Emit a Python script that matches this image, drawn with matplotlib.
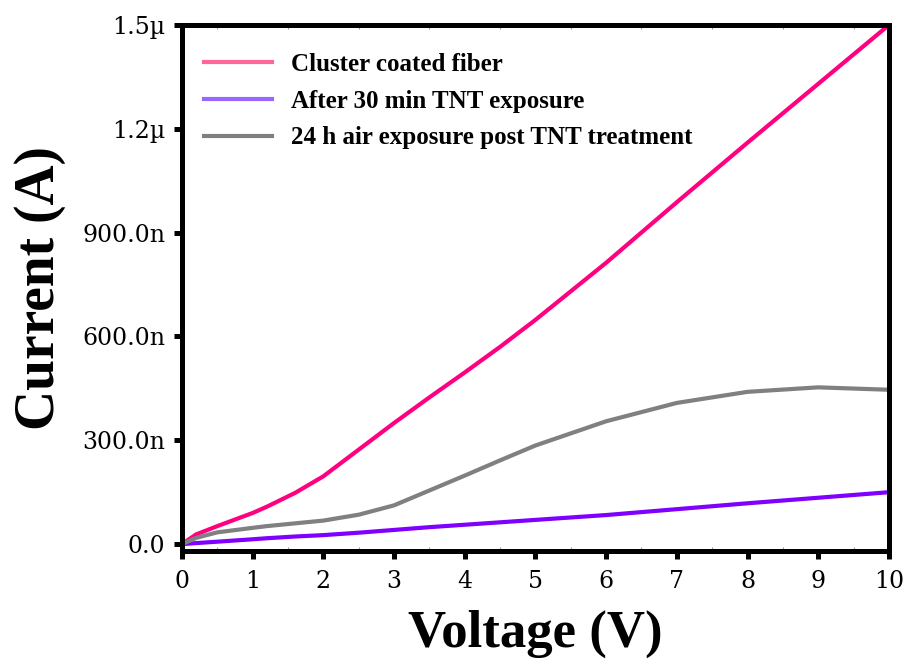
import matplotlib
matplotlib.use('Agg')
import matplotlib.pyplot as plt
from matplotlib.lines import Line2D
from matplotlib.ticker import MultipleLocator

# I-V curves, values (current in nA)
voltage = [0, 0.2, 0.5, 1.0, 1.2, 1.6, 2.0, 2.5, 3.0, 3.5, 4.0, 4.5, 5, 6, 7, 8, 9, 10]
coated = [0, 28, 52, 90, 108, 148, 196, 273, 350, 424, 496, 570, 648,
          813, 988, 1160, 1330, 1500]
after_tnt = [0, 3, 7, 14, 17, 22, 26, 33, 41, 49, 56, 63, 70,
             84, 101, 118, 134, 150]
air_24h = [0, 18, 34, 47, 52, 60, 68, 85, 112, 155, 198, 242, 285,
           355, 408, 440, 453, 446]

labels = ['Cluster coated fiber', 'After 30 min TNT exposure',
          '24 h air exposure post TNT treatment']
y_ticks = [0, 300, 600, 900, 1200, 1500]
y_tick_labels = ['0.0', '300.0n', '600.0n', '900.0n', '1.2\u00b5', '1.5\u00b5']

plt.rcParams['font.family'] = ['Liberation Serif', 'DejaVu Serif']
plt.rcParams['font.weight'] = 'bold'

fig = plt.figure(figsize=(9.08, 6.72), dpi=100)
ax = fig.add_axes([0.2004, 0.18, 0.7786, 0.7828])

ax.plot(voltage, coated, color='#ff0080', lw=3, solid_capstyle='butt')
ax.plot(voltage, after_tnt, color='#7f00ff', lw=3, solid_capstyle='butt')
ax.plot(voltage, air_24h, color='#808080', lw=3, solid_capstyle='butt')

ax.set_xlim(0, 10)
ax.set_ylim(-20, 1500)
ax.set_xticks(range(0, 11))
ax.set_yticks(y_ticks)
ax.set_yticklabels(y_tick_labels)
ax.xaxis.set_minor_locator(MultipleLocator(0.5))

for s in ax.spines.values():
    s.set_linewidth(3.6)
ax.tick_params(which='major', direction='out', length=6, width=3.6, pad=6)
ax.tick_params(axis='x', which='major', pad=8)
ax.tick_params(which='minor', axis='x', direction='in', length=3, width=0.8,
               color='#999999', top=True)
for lbl in ax.get_xticklabels() + ax.get_yticklabels():
    lbl.set_fontfamily('DejaVu Serif')
    lbl.set_fontweight('normal')
    lbl.set_fontsize(17)

ax.set_xlabel('Voltage (V)', fontsize=38, fontweight='bold', labelpad=12)
ax.set_ylabel('Current (A)', fontsize=40, fontweight='bold', labelpad=12)

handles = [Line2D([], [], color='#ff6699', lw=3),
           Line2D([], [], color='#9966ff', lw=3),
           Line2D([], [], color='#808080', lw=3)]
ax.legend(handles, labels, loc='upper left', bbox_to_anchor=(0.0, 0.99),
          frameon=False, fontsize=18, handlelength=2.7, handletextpad=0.75,
          labelspacing=0.55)

fig.savefig('out.png', dpi=100)
